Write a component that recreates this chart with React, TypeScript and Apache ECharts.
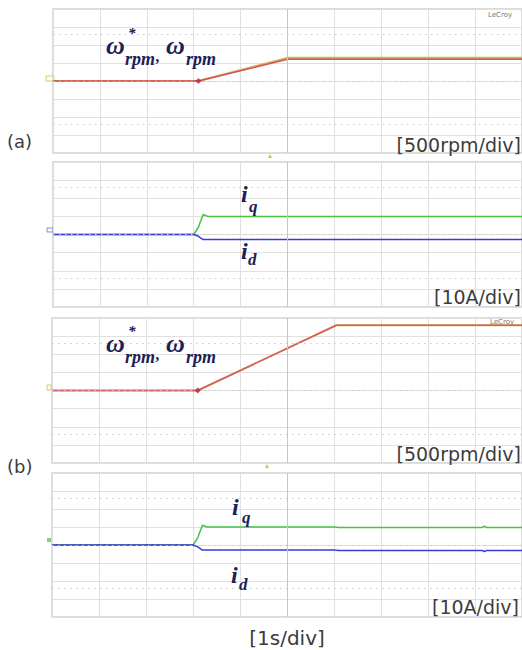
import React, { useEffect, useRef } from "react";
import * as echarts from "echarts";

// ---- data (time in s, speed in rpm, current in A) ----
const T_A_SPEED = [0, 3.1, 5.0, 10];
const REF_A_SPEED = [0, 0, 640, 640];
const ACT_A_SPEED = [0, 0, 605, 605];

const T_B_SPEED = [0, 3.1, 6.05, 10];
const REF_B_SPEED = [0, 0, 1800, 1800];
const ACT_B_SPEED = [0, 0, 1800, 1800];

const T_A_CUR = [0, 3.0, 3.1, 3.2, 3.3, 10];
const IQ_A = [0, 0, 4, 11, 10, 10];
const ID_A = [0, 0, -1, -2.8, -2.8, -2.8];

const T_B_CUR = [0, 3.0, 3.1, 3.2, 3.3, 6.0, 6.1, 9.15, 9.2, 9.25, 10];
const IQ_B = [0, 0, 4, 11, 10, 10, 9.7, 9.7, 10.5, 9.7, 9.7];
const ID_B = [0, 0, -1, -2.8, -2.8, -2.8, -3.0, -3.0, -3.6, -3.0, -3.0];

const SPEED_DIV = 500;
const CUR_DIV = 10;
const X_DIVS = 10;
const Y_DIVS = 4;
const DOTTED_DIVS = [2.6, -2.4, 0];

const GRIDS = [
  { left: 53, top: 9, width: 470, height: 144, div: SPEED_DIV },
  { left: 53, top: 162, width: 470, height: 145, div: CUR_DIV },
  { left: 52, top: 318, width: 472, height: 145, div: SPEED_DIV },
  { left: 52, top: 473, width: 472, height: 144, div: CUR_DIV },
];

const zip = (xs: number[], ys: number[]) => xs.map((x, i) => [x, ys[i]]);

function line(idx: number, xs: number[], ys: number[], color: string, width: number, z: number) {
  return {
    type: "line",
    xAxisIndex: idx,
    yAxisIndex: idx,
    data: zip(xs, ys),
    showSymbol: false,
    silent: true,
    lineStyle: { color, width },
    itemStyle: { color },
    z,
  };
}

export default function App() {
  const ref = useRef<HTMLDivElement>(null);
  useEffect(() => {
    if (!ref.current) return;
    const chart = echarts.init(ref.current, null, { renderer: "svg" });

    const gridBg = GRIDS.map((g, i) => ({
      type: "line",
      xAxisIndex: i,
      yAxisIndex: i,
      data: [[0, 0]],
      showSymbol: false,
      silent: true,
      lineStyle: { opacity: 0 },
      z: 1,
      markLine: {
        silent: true,
        symbol: "none",
        label: { show: false },
        animation: false,
        data: [
          ...DOTTED_DIVS.map((d) => ({
            yAxis: d * g.div,
            lineStyle: { type: [1.5, 4.5], color: "#c8c8c8", width: 1 },
          })),
          { xAxis: 5, lineStyle: { type: "solid", color: "#c6c6c6", width: 1 } },
        ],
      },
    }));

    const series = [
      ...gridBg,
      line(0, T_A_SPEED, REF_A_SPEED, "#c9b65a", 2.2, 3),
      line(0, T_A_SPEED, ACT_A_SPEED, "#d9505a", 1.5, 4),
      line(2, T_B_SPEED, REF_B_SPEED, "#c9b65a", 2, 3),
      line(2, T_B_SPEED, ACT_B_SPEED, "#de5a6a", 1.5, 4),
      line(1, T_A_CUR, IQ_A, "#46c246", 1.5, 3),
      line(1, T_A_CUR, ID_A, "#3a3ad8", 1.5, 4),
      line(3, T_B_CUR, IQ_B, "#46c246", 1.5, 3),
      line(3, T_B_CUR, ID_B, "#3a3ad8", 1.5, 4),
      {
        type: "scatter",
        xAxisIndex: 0,
        yAxisIndex: 0,
        data: [[T_A_SPEED[1], REF_A_SPEED[1]]],
        symbol: "diamond",
        symbolSize: 6,
        itemStyle: { color: "#b8283c" },
        silent: true,
        z: 5,
      },
      {
        type: "scatter",
        xAxisIndex: 2,
        yAxisIndex: 2,
        data: [[T_B_SPEED[1], REF_B_SPEED[1]]],
        symbol: "diamond",
        symbolSize: 6,
        itemStyle: { color: "#b8283c" },
        silent: true,
        z: 5,
      },
    ];

    const txt = (text: string, x: number, y: number, size: number, extra: any = {}) => ({
      type: "text",
      x,
      y,
      silent: true,
      z: 100,
      style: {
        text,
        fontSize: size,
        fontFamily: "DejaVu Sans",
        fill: "#3c3c3c",
        align: "left",
        verticalAlign: "middle",
        ...extra,
      },
    });
    const math = (text: string, x: number, y: number, size: number, extra: any = {}) =>
      txt(text, x, y, size, {
        fontFamily: "Liberation Serif",
        fontStyle: "italic",
        fontWeight: "bold",
        fill: "#1c2058",
        ...extra,
      });

    const omegaLabel = (dy: number) => [
      math("ω", 106, 45 + dy, 26),
      math("*", 128, 33 + dy, 15),
      math("rpm", 125, 59 + dy, 18),
      math(",", 156, 56 + dy, 16),
      math("ω", 166, 45 + dy, 26),
      math("rpm", 186, 59 + dy, 18),
    ];

    const graphic = [
      txt("(a)", 7, 141, 18),
      txt("(b)", 7, 466, 18),
      txt("[500rpm/div]", 521, 145, 19, { align: "right" }),
      txt("[10A/div]", 521, 297, 19, { align: "right" }),
      txt("[500rpm/div]", 521, 454, 19, { align: "right" }),
      txt("[10A/div]", 519, 607, 19, { align: "right" }),
      txt("[1s/div]", 287, 638, 20, { align: "center" }),
      txt("LeCroy", 488, 15, 7, { fill: "#777" }),
      txt("LeCroy", 490, 322, 7, { fill: "#777" }),
      ...omegaLabel(0),
      ...omegaLabel(298),
      math("i", 241, 194, 24),
      math("q", 249, 206, 17),
      math("i", 241, 251, 24),
      math("d", 248, 259, 17),
      math("i", 232, 507, 24),
      math("q", 242, 517, 17),
      math("i", 231, 575, 24),
      math("d", 239, 584, 17),
      { type: "rect", shape: { x: 46, y: 76, width: 8, height: 5 }, style: { fill: "none", stroke: "#d8c860", lineWidth: 1 }, silent: true },
      { type: "rect", shape: { x: 47, y: 228, width: 6, height: 4 }, style: { fill: "none", stroke: "#8888dd", lineWidth: 1 }, silent: true },
      { type: "rect", shape: { x: 47, y: 385, width: 4, height: 5 }, style: { fill: "none", stroke: "#d8c860", lineWidth: 1 }, silent: true },
      { type: "rect", shape: { x: 47, y: 538, width: 4, height: 4 }, style: { fill: "#7fcf7f" }, silent: true },
      { type: "polygon", shape: { points: [[268, 158], [272, 158], [270, 154]] }, style: { fill: "#d8c040" }, silent: true },
      { type: "polygon", shape: { points: [[265, 468], [269, 468], [267, 464]] }, style: { fill: "#d8c040" }, silent: true },
    ];

    chart.setOption({
      animation: false,
      backgroundColor: "#ffffff",
      grid: GRIDS.map((g) => ({
        left: g.left,
        top: g.top,
        width: g.width,
        height: g.height,
        show: true,
        borderColor: "#cfcfcf",
        borderWidth: 1.5,
        backgroundColor: "transparent",
      })),
      xAxis: GRIDS.map((g, i) => ({
        type: "value",
        gridIndex: i,
        min: 0,
        max: X_DIVS,
        interval: 1,
        axisLine: { show: false },
        axisTick: { show: false },
        axisLabel: { show: false },
        splitLine: { show: true, lineStyle: { color: "#e0e0e0", width: 1 } },
      })),
      yAxis: GRIDS.map((g, i) => ({
        type: "value",
        gridIndex: i,
        min: -Y_DIVS * g.div,
        max: Y_DIVS * g.div,
        interval: g.div,
        axisLine: { show: false },
        axisTick: { show: false },
        axisLabel: { show: false },
        splitLine: { show: true, lineStyle: { color: "#e0e0e0", width: 1 } },
      })),
      series,
      graphic,
    });
    return () => chart.dispose();
  }, []);
  return (
    <div
      ref={ref}
      style={{ position: "fixed", left: 0, top: 0, width: 522, height: 650, background: "#fff" }}
    />
  );
}
